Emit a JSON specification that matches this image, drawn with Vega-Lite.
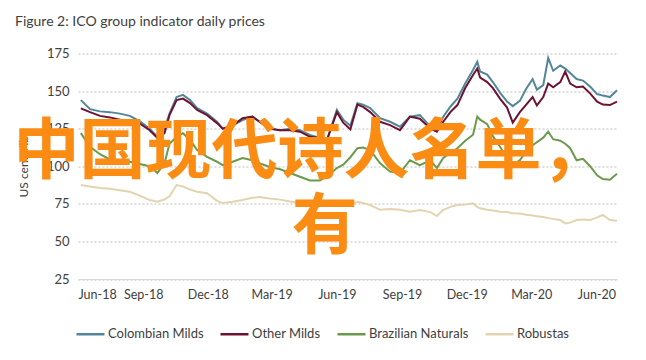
{
 "$schema": "https://vega.github.io/schema/vega-lite/v6.json",
 "width": 539,
 "height": 225.5,
 "autosize": {"type": "none"},
 "padding": {"left": 78, "top": 53.5, "right": 29, "bottom": 81},
 "background": "white",
 "config": {"font": "Lato", "view": {"stroke": null}},
 "title": {"text": "Figure 2: ICO group indicator daily prices", "anchor": "start", "frame": "group", "dx": -63, "offset": 19, "fontSize": 14, "font": "Lato", "fontWeight": "normal", "color": "#404040"},
 "datasets": {
  "prices": [
   {"date":"2018-06-05","series":"Colombian Milds","price":144},{"date":"2018-06-18","series":"Colombian Milds","price":138},{"date":"2018-07-02","series":"Colombian Milds","price":136.5},{"date":"2018-07-16","series":"Colombian Milds","price":136},{"date":"2018-07-30","series":"Colombian Milds","price":135},{"date":"2018-08-13","series":"Colombian Milds","price":133.5},{"date":"2018-08-27","series":"Colombian Milds","price":130},{"date":"2018-09-10","series":"Colombian Milds","price":125},{"date":"2018-09-21","series":"Colombian Milds","price":119.6},{"date":"2018-10-01","series":"Colombian Milds","price":125},{"date":"2018-10-08","series":"Colombian Milds","price":135},{"date":"2018-10-18","series":"Colombian Milds","price":146},{"date":"2018-10-27","series":"Colombian Milds","price":147.5},{"date":"2018-11-06","series":"Colombian Milds","price":144},{"date":"2018-11-16","series":"Colombian Milds","price":138.7},{"date":"2018-11-30","series":"Colombian Milds","price":135},{"date":"2018-12-14","series":"Colombian Milds","price":129.6},{"date":"2018-12-22","series":"Colombian Milds","price":125},{"date":"2019-01-05","series":"Colombian Milds","price":127},{"date":"2019-01-19","series":"Colombian Milds","price":130.7},{"date":"2019-02-02","series":"Colombian Milds","price":133},{"date":"2019-02-12","series":"Colombian Milds","price":129.6},{"date":"2019-02-26","series":"Colombian Milds","price":125},{"date":"2019-03-13","series":"Colombian Milds","price":124},{"date":"2019-03-27","series":"Colombian Milds","price":125},{"date":"2019-04-10","series":"Colombian Milds","price":124},{"date":"2019-04-24","series":"Colombian Milds","price":120.8},{"date":"2019-05-08","series":"Colombian Milds","price":118.8},{"date":"2019-05-19","series":"Colombian Milds","price":118.8},{"date":"2019-06-01","series":"Colombian Milds","price":137.5},{"date":"2019-06-10","series":"Colombian Milds","price":131},{"date":"2019-06-20","series":"Colombian Milds","price":127},{"date":"2019-06-30","series":"Colombian Milds","price":142},{"date":"2019-07-08","series":"Colombian Milds","price":141},{"date":"2019-07-18","series":"Colombian Milds","price":138.7},{"date":"2019-08-01","series":"Colombian Milds","price":132},{"date":"2019-08-15","series":"Colombian Milds","price":129.6},{"date":"2019-08-29","series":"Colombian Milds","price":126.3},{"date":"2019-09-12","series":"Colombian Milds","price":133},{"date":"2019-09-26","series":"Colombian Milds","price":134},{"date":"2019-10-11","series":"Colombian Milds","price":126.3},{"date":"2019-10-20","series":"Colombian Milds","price":124},{"date":"2019-10-29","series":"Colombian Milds","price":133},{"date":"2019-11-08","series":"Colombian Milds","price":139.6},{"date":"2019-11-18","series":"Colombian Milds","price":145},{"date":"2019-11-29","series":"Colombian Milds","price":155},{"date":"2019-12-10","series":"Colombian Milds","price":164},{"date":"2019-12-16","series":"Colombian Milds","price":169.5},{"date":"2019-12-20","series":"Colombian Milds","price":163},{"date":"2019-12-30","series":"Colombian Milds","price":161},{"date":"2020-01-07","series":"Colombian Milds","price":156},{"date":"2020-01-17","series":"Colombian Milds","price":149},{"date":"2020-01-27","series":"Colombian Milds","price":143},{"date":"2020-02-04","series":"Colombian Milds","price":140},{"date":"2020-02-14","series":"Colombian Milds","price":143.5},{"date":"2020-02-23","series":"Colombian Milds","price":151.5},{"date":"2020-03-03","series":"Colombian Milds","price":158},{"date":"2020-03-09","series":"Colombian Milds","price":151},{"date":"2020-03-18","series":"Colombian Milds","price":154},{"date":"2020-03-25","series":"Colombian Milds","price":172},{"date":"2020-04-01","series":"Colombian Milds","price":163.5},{"date":"2020-04-11","series":"Colombian Milds","price":167},{"date":"2020-04-18","series":"Colombian Milds","price":165},{"date":"2020-04-25","series":"Colombian Milds","price":162},{"date":"2020-05-04","series":"Colombian Milds","price":158},{"date":"2020-05-13","series":"Colombian Milds","price":157},{"date":"2020-05-23","series":"Colombian Milds","price":153},{"date":"2020-06-02","series":"Colombian Milds","price":148},{"date":"2020-06-10","series":"Colombian Milds","price":147},{"date":"2020-06-20","series":"Colombian Milds","price":146},{"date":"2020-06-30","series":"Colombian Milds","price":150.5},
   {"date":"2018-06-05","series":"Other Milds","price":138.5},{"date":"2018-06-18","series":"Other Milds","price":136},{"date":"2018-07-02","series":"Other Milds","price":133.5},{"date":"2018-07-16","series":"Other Milds","price":132.5},{"date":"2018-07-30","series":"Other Milds","price":131},{"date":"2018-08-13","series":"Other Milds","price":129.5},{"date":"2018-08-27","series":"Other Milds","price":128.5},{"date":"2018-09-10","series":"Other Milds","price":124},{"date":"2018-09-21","series":"Other Milds","price":118.8},{"date":"2018-10-01","series":"Other Milds","price":122},{"date":"2018-10-08","series":"Other Milds","price":134},{"date":"2018-10-18","series":"Other Milds","price":144},{"date":"2018-10-27","series":"Other Milds","price":145},{"date":"2018-11-06","series":"Other Milds","price":142},{"date":"2018-11-16","series":"Other Milds","price":137.5},{"date":"2018-11-30","series":"Other Milds","price":134},{"date":"2018-12-14","series":"Other Milds","price":128.7},{"date":"2018-12-22","series":"Other Milds","price":125},{"date":"2019-01-05","series":"Other Milds","price":127},{"date":"2019-01-19","series":"Other Milds","price":132},{"date":"2019-02-02","series":"Other Milds","price":133},{"date":"2019-02-12","series":"Other Milds","price":129.6},{"date":"2019-02-26","series":"Other Milds","price":125},{"date":"2019-03-13","series":"Other Milds","price":124},{"date":"2019-03-27","series":"Other Milds","price":124},{"date":"2019-04-10","series":"Other Milds","price":123},{"date":"2019-04-24","series":"Other Milds","price":119.6},{"date":"2019-05-08","series":"Other Milds","price":118.8},{"date":"2019-05-19","series":"Other Milds","price":118.8},{"date":"2019-06-01","series":"Other Milds","price":136},{"date":"2019-06-10","series":"Other Milds","price":129},{"date":"2019-06-20","series":"Other Milds","price":124.5},{"date":"2019-06-30","series":"Other Milds","price":141},{"date":"2019-07-08","series":"Other Milds","price":139.5},{"date":"2019-07-18","series":"Other Milds","price":136},{"date":"2019-08-01","series":"Other Milds","price":129.6},{"date":"2019-08-15","series":"Other Milds","price":127.4},{"date":"2019-08-29","series":"Other Milds","price":124},{"date":"2019-09-12","series":"Other Milds","price":133},{"date":"2019-09-26","series":"Other Milds","price":131.6},{"date":"2019-10-11","series":"Other Milds","price":125},{"date":"2019-10-20","series":"Other Milds","price":123},{"date":"2019-10-29","series":"Other Milds","price":129.6},{"date":"2019-11-08","series":"Other Milds","price":136},{"date":"2019-11-18","series":"Other Milds","price":140.7},{"date":"2019-11-29","series":"Other Milds","price":152},{"date":"2019-12-10","series":"Other Milds","price":160.7},{"date":"2019-12-16","series":"Other Milds","price":165},{"date":"2019-12-20","series":"Other Milds","price":159},{"date":"2019-12-30","series":"Other Milds","price":156},{"date":"2020-01-07","series":"Other Milds","price":152},{"date":"2020-01-17","series":"Other Milds","price":145},{"date":"2020-01-27","series":"Other Milds","price":139},{"date":"2020-02-04","series":"Other Milds","price":129},{"date":"2020-02-14","series":"Other Milds","price":136},{"date":"2020-02-23","series":"Other Milds","price":141},{"date":"2020-03-03","series":"Other Milds","price":146},{"date":"2020-03-09","series":"Other Milds","price":140.5},{"date":"2020-03-18","series":"Other Milds","price":146},{"date":"2020-03-25","series":"Other Milds","price":155},{"date":"2020-04-01","series":"Other Milds","price":152.5},{"date":"2020-04-11","series":"Other Milds","price":156},{"date":"2020-04-18","series":"Other Milds","price":163},{"date":"2020-04-25","series":"Other Milds","price":155},{"date":"2020-05-04","series":"Other Milds","price":152.5},{"date":"2020-05-13","series":"Other Milds","price":153},{"date":"2020-05-23","series":"Other Milds","price":148.5},{"date":"2020-06-02","series":"Other Milds","price":143},{"date":"2020-06-10","series":"Other Milds","price":141},{"date":"2020-06-20","series":"Other Milds","price":140.7},{"date":"2020-06-30","series":"Other Milds","price":143},
   {"date":"2018-06-05","series":"Brazilian Naturals","price":122},{"date":"2018-06-18","series":"Brazilian Naturals","price":113},{"date":"2018-07-02","series":"Brazilian Naturals","price":108},{"date":"2018-07-16","series":"Brazilian Naturals","price":104.5},{"date":"2018-07-30","series":"Brazilian Naturals","price":104},{"date":"2018-08-13","series":"Brazilian Naturals","price":103},{"date":"2018-08-27","series":"Brazilian Naturals","price":101.5},{"date":"2018-09-10","series":"Brazilian Naturals","price":100},{"date":"2018-09-21","series":"Brazilian Naturals","price":95.5},{"date":"2018-10-01","series":"Brazilian Naturals","price":102},{"date":"2018-10-08","series":"Brazilian Naturals","price":115},{"date":"2018-10-18","series":"Brazilian Naturals","price":119.6},{"date":"2018-10-27","series":"Brazilian Naturals","price":122},{"date":"2018-11-06","series":"Brazilian Naturals","price":117.5},{"date":"2018-11-16","series":"Brazilian Naturals","price":110.8},{"date":"2018-11-30","series":"Brazilian Naturals","price":106.3},{"date":"2018-12-14","series":"Brazilian Naturals","price":103},{"date":"2018-12-22","series":"Brazilian Naturals","price":100.8},{"date":"2019-01-05","series":"Brazilian Naturals","price":103},{"date":"2019-01-19","series":"Brazilian Naturals","price":105.5},{"date":"2019-02-02","series":"Brazilian Naturals","price":104},{"date":"2019-02-12","series":"Brazilian Naturals","price":102},{"date":"2019-02-26","series":"Brazilian Naturals","price":99.5},{"date":"2019-03-13","series":"Brazilian Naturals","price":98},{"date":"2019-03-27","series":"Brazilian Naturals","price":95.5},{"date":"2019-04-10","series":"Brazilian Naturals","price":93},{"date":"2019-04-24","series":"Brazilian Naturals","price":90.5},{"date":"2019-05-08","series":"Brazilian Naturals","price":90.5},{"date":"2019-05-19","series":"Brazilian Naturals","price":93.5},{"date":"2019-06-01","series":"Brazilian Naturals","price":98.8},{"date":"2019-06-10","series":"Brazilian Naturals","price":101},{"date":"2019-06-20","series":"Brazilian Naturals","price":106},{"date":"2019-06-30","series":"Brazilian Naturals","price":112},{"date":"2019-07-08","series":"Brazilian Naturals","price":112.5},{"date":"2019-07-18","series":"Brazilian Naturals","price":110.8},{"date":"2019-08-01","series":"Brazilian Naturals","price":102},{"date":"2019-08-15","series":"Brazilian Naturals","price":96.4},{"date":"2019-08-29","series":"Brazilian Naturals","price":95.5},{"date":"2019-09-12","series":"Brazilian Naturals","price":104},{"date":"2019-09-26","series":"Brazilian Naturals","price":100.8},{"date":"2019-10-11","series":"Brazilian Naturals","price":104},{"date":"2019-10-20","series":"Brazilian Naturals","price":98.8},{"date":"2019-10-29","series":"Brazilian Naturals","price":105.5},{"date":"2019-11-08","series":"Brazilian Naturals","price":108.8},{"date":"2019-11-18","series":"Brazilian Naturals","price":112},{"date":"2019-11-29","series":"Brazilian Naturals","price":117},{"date":"2019-12-10","series":"Brazilian Naturals","price":121},{"date":"2019-12-16","series":"Brazilian Naturals","price":133},{"date":"2019-12-20","series":"Brazilian Naturals","price":131},{"date":"2019-12-30","series":"Brazilian Naturals","price":128},{"date":"2020-01-07","series":"Brazilian Naturals","price":120},{"date":"2020-01-17","series":"Brazilian Naturals","price":113},{"date":"2020-01-27","series":"Brazilian Naturals","price":106},{"date":"2020-02-04","series":"Brazilian Naturals","price":101},{"date":"2020-02-14","series":"Brazilian Naturals","price":104},{"date":"2020-02-23","series":"Brazilian Naturals","price":110},{"date":"2020-03-03","series":"Brazilian Naturals","price":114},{"date":"2020-03-09","series":"Brazilian Naturals","price":116},{"date":"2020-03-18","series":"Brazilian Naturals","price":119},{"date":"2020-03-25","series":"Brazilian Naturals","price":123},{"date":"2020-04-01","series":"Brazilian Naturals","price":118},{"date":"2020-04-11","series":"Brazilian Naturals","price":117},{"date":"2020-04-18","series":"Brazilian Naturals","price":115},{"date":"2020-04-25","series":"Brazilian Naturals","price":112},{"date":"2020-05-04","series":"Brazilian Naturals","price":104},{"date":"2020-05-13","series":"Brazilian Naturals","price":105},{"date":"2020-05-23","series":"Brazilian Naturals","price":100},{"date":"2020-06-02","series":"Brazilian Naturals","price":94},{"date":"2020-06-10","series":"Brazilian Naturals","price":91.5},{"date":"2020-06-20","series":"Brazilian Naturals","price":91},{"date":"2020-06-30","series":"Brazilian Naturals","price":95},
   {"date":"2018-06-05","series":"Robustas","price":87.5},{"date":"2018-06-18","series":"Robustas","price":86.5},{"date":"2018-07-02","series":"Robustas","price":85.5},{"date":"2018-07-16","series":"Robustas","price":85},{"date":"2018-07-30","series":"Robustas","price":84},{"date":"2018-08-13","series":"Robustas","price":83},{"date":"2018-08-27","series":"Robustas","price":80.5},{"date":"2018-09-10","series":"Robustas","price":77.5},{"date":"2018-09-21","series":"Robustas","price":76.4},{"date":"2018-10-01","series":"Robustas","price":78},{"date":"2018-10-08","series":"Robustas","price":80},{"date":"2018-10-18","series":"Robustas","price":87.5},{"date":"2018-10-27","series":"Robustas","price":86.5},{"date":"2018-11-06","series":"Robustas","price":84.5},{"date":"2018-11-16","series":"Robustas","price":83},{"date":"2018-11-30","series":"Robustas","price":82},{"date":"2018-12-14","series":"Robustas","price":77},{"date":"2018-12-22","series":"Robustas","price":75.5},{"date":"2019-01-05","series":"Robustas","price":76.4},{"date":"2019-01-19","series":"Robustas","price":77.5},{"date":"2019-02-02","series":"Robustas","price":79},{"date":"2019-02-12","series":"Robustas","price":79.5},{"date":"2019-02-26","series":"Robustas","price":78.5},{"date":"2019-03-13","series":"Robustas","price":77.8},{"date":"2019-03-27","series":"Robustas","price":76.5},{"date":"2019-04-10","series":"Robustas","price":75.5},{"date":"2019-04-24","series":"Robustas","price":75},{"date":"2019-05-08","series":"Robustas","price":74.5},{"date":"2019-05-19","series":"Robustas","price":74.5},{"date":"2019-06-01","series":"Robustas","price":74.5},{"date":"2019-06-10","series":"Robustas","price":75},{"date":"2019-06-20","series":"Robustas","price":74.5},{"date":"2019-06-30","series":"Robustas","price":76.4},{"date":"2019-07-08","series":"Robustas","price":75.5},{"date":"2019-07-18","series":"Robustas","price":74.2},{"date":"2019-08-01","series":"Robustas","price":71},{"date":"2019-08-15","series":"Robustas","price":71.5},{"date":"2019-08-29","series":"Robustas","price":71},{"date":"2019-09-12","series":"Robustas","price":69.7},{"date":"2019-09-26","series":"Robustas","price":70.9},{"date":"2019-10-11","series":"Robustas","price":69.5},{"date":"2019-10-20","series":"Robustas","price":66.9},{"date":"2019-10-29","series":"Robustas","price":71},{"date":"2019-11-08","series":"Robustas","price":73},{"date":"2019-11-18","series":"Robustas","price":74.2},{"date":"2019-11-29","series":"Robustas","price":74.5},{"date":"2019-12-10","series":"Robustas","price":75.3},{"date":"2019-12-16","series":"Robustas","price":73},{"date":"2019-12-20","series":"Robustas","price":72},{"date":"2019-12-30","series":"Robustas","price":71},{"date":"2020-01-07","series":"Robustas","price":70.5},{"date":"2020-01-17","series":"Robustas","price":69.7},{"date":"2020-01-27","series":"Robustas","price":69.5},{"date":"2020-02-04","series":"Robustas","price":68.7},{"date":"2020-02-14","series":"Robustas","price":68.5},{"date":"2020-02-23","series":"Robustas","price":67.8},{"date":"2020-03-03","series":"Robustas","price":67.2},{"date":"2020-03-09","series":"Robustas","price":66.8},{"date":"2020-03-18","series":"Robustas","price":66.2},{"date":"2020-03-25","series":"Robustas","price":65.5},{"date":"2020-04-01","series":"Robustas","price":65},{"date":"2020-04-11","series":"Robustas","price":64.2},{"date":"2020-04-18","series":"Robustas","price":62},{"date":"2020-04-25","series":"Robustas","price":62.5},{"date":"2020-05-04","series":"Robustas","price":64.2},{"date":"2020-05-13","series":"Robustas","price":64.5},{"date":"2020-05-23","series":"Robustas","price":64.2},{"date":"2020-06-02","series":"Robustas","price":66},{"date":"2020-06-10","series":"Robustas","price":67.6},{"date":"2020-06-20","series":"Robustas","price":64.2},{"date":"2020-06-30","series":"Robustas","price":63.8}
  ],
  "notes": [
   {"date": "2019-04-25", "price": 108.8, "label": "中国现代诗人名单，"},
   {"date": "2019-05-15", "price": 58.9, "label": "有"}
  ]
 },
 "layer": [
  {
   "data": {"name": "prices"},
   "mark": {"type": "line", "strokeWidth": 2},
   "encoding": {
    "x": {"field": "date", "type": "temporal",
     "scale": {"type": "utc", "domain": [{"year": 2018, "month": 6, "date": 1, "utc": true}, {"year": 2020, "month": 6, "date": 30, "utc": true}]},
     "axis": {"title": null, "format": "%b-%y", "grid": false, "ticks": false, "domain": true, "domainColor": "#d9d9d9", "domainWidth": 1.2, "labelPadding": 9, "labelFontSize": 12.5, "labelColor": "#404040", "labelFont": "Lato", "labelOverlap": false, "tickCount": 20,
      "values": [{"year": 2018, "month": 6, "date": 1, "utc": true}, {"year": 2018, "month": 9, "date": 1, "utc": true}, {"year": 2018, "month": 12, "date": 1, "utc": true}, {"year": 2019, "month": 3, "date": 1, "utc": true}, {"year": 2019, "month": 6, "date": 1, "utc": true}, {"year": 2019, "month": 9, "date": 1, "utc": true}, {"year": 2019, "month": 12, "date": 1, "utc": true}, {"year": 2020, "month": 3, "date": 1, "utc": true}, {"year": 2020, "month": 6, "date": 1, "utc": true}]}},
    "y": {"field": "price", "type": "quantitative",
     "scale": {"domain": [25, 175], "nice": false, "zero": false},
     "axis": {"title": "US cents/lb", "values": [25, 50, 75, 100, 125, 150, 175], "tickCount": 10, "labelOverlap": false, "grid": true, "gridDash": [2, 2], "gridColor": "#bdbdbd", "gridWidth": 1, "domain": false, "ticks": false, "labelPadding": 9, "labelFontSize": 13, "labelColor": "#404040", "labelFont": "Lato", "titleFont": "Lato", "titleFontSize": 12, "titleFontWeight": "normal", "titleColor": "#404040", "titlePadding": 16}},
    "color": {"field": "series", "type": "nominal",
     "scale": {"domain": ["Colombian Milds", "Other Milds", "Brazilian Naturals", "Robustas"], "range": ["#52879a", "#6e1230", "#6b9a4b", "#e3d4b0"]},
     "legend": {"title": null, "orient": "none", "direction": "horizontal", "legendX": -3, "legendY": 265, "symbolType": "stroke", "symbolSize": 784, "symbolStrokeWidth": 2.5, "labelFontSize": 13, "labelColor": "#404040", "labelFont": "Lato", "labelOffset": 2, "columnPadding": 11}}
   }
  },
  {
   "data": {"name": "notes"},
   "mark": {"type": "text", "font": "Noto Sans CJK SC", "fontSize": 66, "fontWeight": "bold", "color": "#fa8c14", "align": "center", "baseline": "middle"},
   "encoding": {
    "x": {"field": "date", "type": "temporal"},
    "y": {"field": "price", "type": "quantitative"},
    "text": {"field": "label"}
   }
  }
 ]
}
